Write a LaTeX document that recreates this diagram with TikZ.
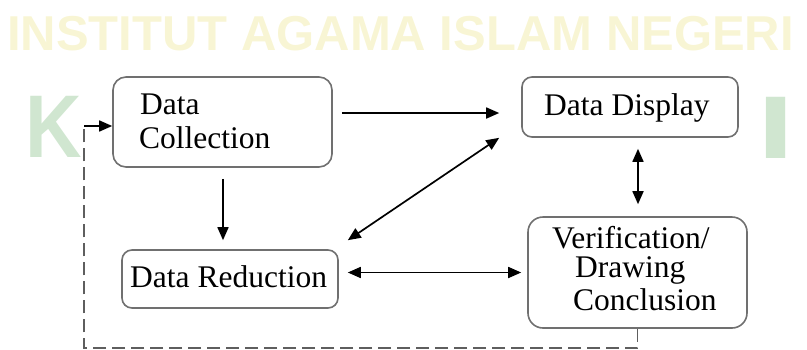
\documentclass[tikz,border=0pt]{standalone}
\usepackage{fontspec}
\setmainfont{Liberation Serif}
\newfontfamily\wmfont{Liberation Sans}
\usetikzlibrary{arrows.meta,calc}
\definecolor{wmyellow}{HTML}{F8F5D4}
\definecolor{wmgreen}{HTML}{D0E6D0}
\definecolor{boxgray}{HTML}{707070}
\definecolor{dashgray}{HTML}{5E5E5E}
\begin{document}
\begin{tikzpicture}[x=1pt,y=-1pt,
  boxnode/.style={draw=boxgray,line width=1.6pt,fill=white,inner sep=0pt,rounded corners=#1},
  boxnode/.default=12pt,
  txt/.style={anchor=base west,inner sep=0pt,font=\fontsize{31.5}{34}\selectfont},
  wm/.style={anchor=base west,inner sep=0pt},
  arr/.style={line width=1.7pt,-{Triangle[length=13pt,width=11pt]}},
  darr/.style={line width=1.7pt,{Triangle[length=13pt,width=11pt]}-{Triangle[length=13pt,width=11pt]}},
  fbline/.style={draw=dashgray,line width=1.8pt,dash pattern=on 13pt off 6pt}]
\useasboundingbox (0,0) rectangle (807,349);
% watermark
\node[wm,text=wmyellow,font=\wmfont\bfseries\fontsize{49}{50}\selectfont] (wmtop) at (7,50) {INSTITUT AGAMA ISLAM NEGERI};
\node[wm,text=wmgreen,font=\wmfont\bfseries\fontsize{89}{90}\selectfont,xscale=0.88] (wmk) at (25,157) {K};
\node[wm,text=wmgreen,font=\wmfont\bfseries\fontsize{89}{90}\selectfont,xscale=1.5] (wmi) at (757.5,158) {I};
% boxes
\node[boxnode=13pt,minimum width=219pt,minimum height=90pt] (dc) at (222.5,122) {};
\node[boxnode=10pt,minimum width=216pt,minimum height=60pt] (dd) at (630,107) {};
\node[boxnode=10pt,minimum width=216pt,minimum height=58pt] (dr) at (230,279) {};
\node[boxnode=15pt,minimum width=219pt,minimum height=111pt] (vc) at (637.5,272.5) {};
% texts
\node[txt] (dc1) at (140,114) {Data};
\node[txt] (dc2) at (139,148) {Collection};
\node[txt] (dd1) at (544,115) {Data Display};
\node[txt] (dr1) at (130,287) {Data Reduction};
\node[txt] (vc1) at (552,248) {Verification/};
\node[txt] (vc2) at (575,277) {Drawing};
\node[txt] (vc3) at (573,310) {Conclusion};
% connectors
\draw[arr] ($(dc.east)+(9,-9)$) -- ($(dd.west)+(-22,6)$);
\draw[darr] ($(dd.south west)+(-22,0)$) -- ($(dr.north east)+(9,-9)$);
\draw[arr] ($(dc.south)+(0.5,11)$) -- ($(dc.south |- dr.north)+(0.5,-9)$);
\draw[darr] ($(vc.north |- dd.south)+(0.5,11)$) -- ($(vc.north)+(0.5,-12)$);
\draw[darr] ($(dr.east |- vc.west)+(9,0)$) -- ($(vc.west)+(-6,0)$);
\coordinate (fbl) at (84,348.3);
\coordinate (fbt) at (84,126);
\draw[fbline] (vc.south) |- (fbl) -- (fbt);
\draw[arr] (fbt) -- (dc.west |- fbt);
\end{tikzpicture}
\end{document}
